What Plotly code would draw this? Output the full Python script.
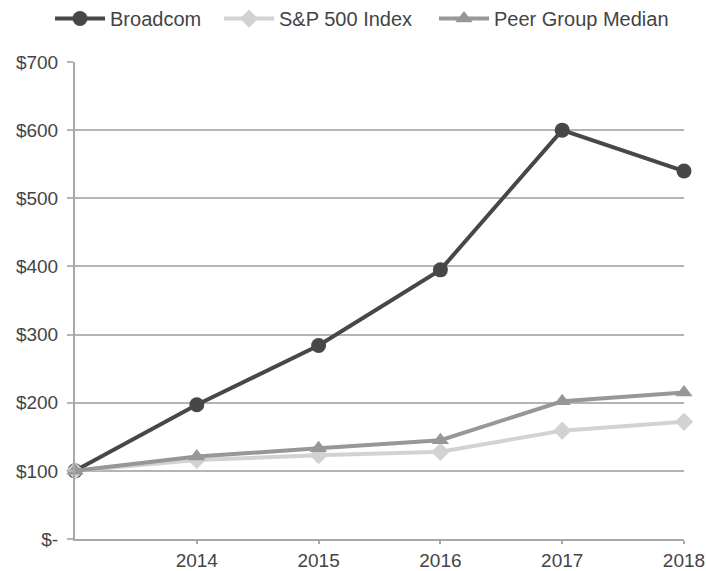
import plotly.graph_objects as go

years = [2013, 2014, 2015, 2016, 2017, 2018]
tick_years = [2014, 2015, 2016, 2017, 2018]
broadcom = [100, 197, 284, 395, 600, 540]
sp500 = [100, 116, 123, 128, 159, 172]
peer = [100, 121, 133, 145, 202, 215]
y_ticks = [0, 100, 200, 300, 400, 500, 600, 700]
y_labels = ["$-", "$100", "$200", "$300", "$400", "$500", "$600", "$700"]

fig = go.Figure()
fig.add_trace(go.Scatter(x=years, y=broadcom, name="Broadcom", mode="lines+markers",
                         line=dict(color="#474747", width=4),
                         marker=dict(symbol="circle", size=15, color="#474747"),
                         cliponaxis=False, legend="legend"))
fig.add_trace(go.Scatter(x=years, y=sp500, name="S&P 500 Index", mode="lines+markers",
                         line=dict(color="#d2d2d2", width=4),
                         marker=dict(symbol="diamond", size=14, color="#d2d2d2"),
                         cliponaxis=False, legend="legend2"))
fig.add_trace(go.Scatter(x=years, y=peer, name="Peer Group Median", mode="lines+markers",
                         line=dict(color="#979797", width=4),
                         marker=dict(symbol="triangle-up", size=15, color="#979797"),
                         cliponaxis=False, legend="legend3"))

leg_common = dict(orientation="h", xanchor="left", y=1.132, yanchor="top",
                  font=dict(size=20, color="#444444"), itemwidth=50,
                  bgcolor="rgba(0,0,0,0)")

fig.update_layout(
    width=706, height=571,
    margin=dict(l=75, r=22, t=62, b=32, autoexpand=False),
    paper_bgcolor="white", plot_bgcolor="white",
    font=dict(family="Liberation Sans, Arial, sans-serif", size=19, color="#444444"),
    showlegend=True,
    legend=dict(x=-0.041, **leg_common),
    legend2=dict(x=0.2365, **leg_common),
    legend3=dict(x=0.5895, **leg_common),
    xaxis=dict(range=[2013, 2018], tickvals=tick_years, ticktext=[str(y) for y in tick_years],
               showgrid=False, zeroline=False, showline=True, linecolor="#a8a8a8", linewidth=2,
               ticks="outside", ticklen=3, tickcolor="#a8a8a8", tickwidth=2,
               tickfont=dict(size=19, color="#444444")),
    yaxis=dict(range=[0, 700], tickvals=y_ticks, ticktext=y_labels,
               showgrid=True, gridcolor="#b4b4b4", gridwidth=2, zeroline=False,
               showline=True, linecolor="#a8a8a8", linewidth=2,
               ticks="outside", ticklen=6, tickcolor="#b4b4b4", tickwidth=2,
               ticklabelstandoff=5,
               tickfont=dict(size=19, color="#444444")),
)

fig.write_html("out.html", config={"displayModeBar": False},
               post_script="document.body.style.margin='0';document.body.style.overflow='hidden';")
